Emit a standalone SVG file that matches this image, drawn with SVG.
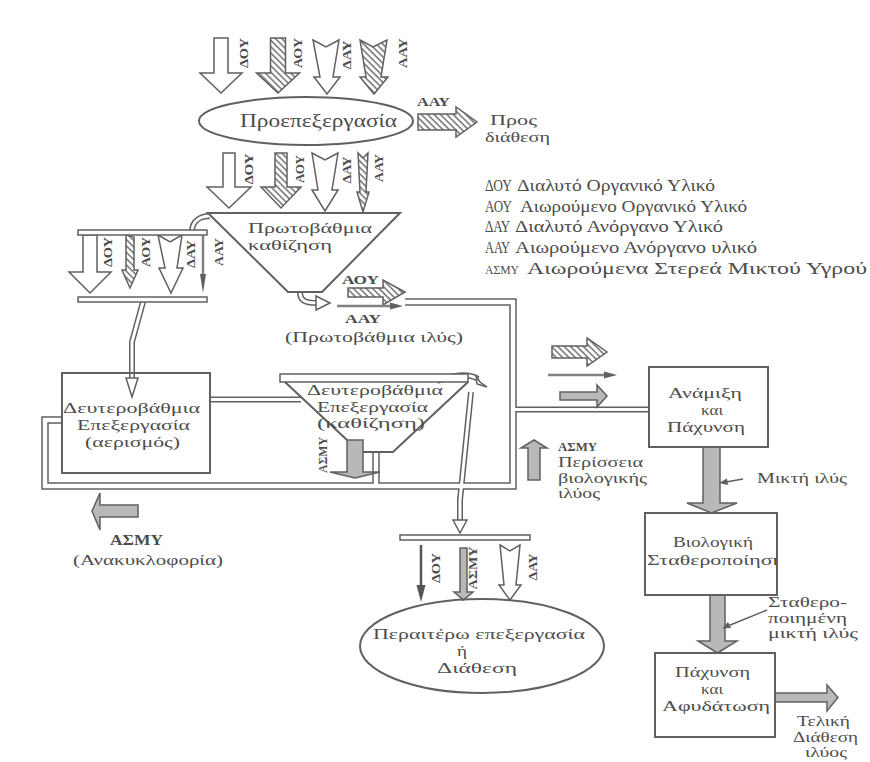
<svg xmlns="http://www.w3.org/2000/svg" width="870" height="762" viewBox="0 0 870 762">
<defs>
<pattern id="hatch" patternUnits="userSpaceOnUse" width="4.5" height="4.5" patternTransform="rotate(-45)">
<rect width="4.5" height="4.5" fill="#fff"/>
<line x1="1" y1="0" x2="1" y2="4.5" stroke="#5a5a5a" stroke-width="1.3"/>
</pattern>
<clipPath id="clipBio"><rect x="645" y="513" width="131" height="82"/></clipPath>
</defs>
<style>
.t{font-family:"Liberation Serif","DejaVu Serif",serif;font-size:18px;fill:#4d4d4d}
.lg{font-size:16px}
.s15{font-size:15px}
.s14{font-size:14px}
.b{font-family:"Liberation Serif","DejaVu Serif",serif;font-weight:bold;font-size:13px;fill:#4d4d4d}
.box{fill:none;stroke:#606060;stroke-width:2}
.wa{fill:#fff;stroke:#606060;stroke-width:1.5;stroke-linejoin:miter}
.ha{fill:url(#hatch);stroke:#606060;stroke-width:1.5}
.ga{fill:#b8b8b8;stroke:#606060;stroke-width:1.5}
.po{fill:none;stroke:#606060;stroke-width:7.5}
.pi{fill:none;stroke:#fff;stroke-width:4.5}
.po2{fill:none;stroke:#606060;stroke-width:6}
.pi2{fill:none;stroke:#fff;stroke-width:3}
.ln{fill:none;stroke:#606060;stroke-width:1.5}
.thin{fill:none;stroke:#808080;stroke-width:2.5}
.bar{fill:#fff;stroke:#606060;stroke-width:1.5}
.hd{fill:#606060;stroke:none}
</style>
<rect width="870" height="762" fill="#fff"/>

<g id="connectors">
  <!-- pipes: outer strokes -->
  <path class="po" d="M405,302 H513 V486 H45 V420 H62"/>
  <path class="po2" d="M513,409.5 H649"/>
  <path class="po2" d="M210,399.5 H301"/>
  <path class="po" d="M376,452 V486"/>
  <path class="po2" d="M471,392 L460,500 V521"/>
  <path class="po2" d="M143,302 L132,342 V379"/>
  <path class="po2" d="M210,216 C200,216 193,221 192,230"/>
  <path class="po2" d="M300,292 C300,300 304,303 317,303"/>
  <path class="po2" d="M437,381 C452,375 468,373 478,379"/>
  <!-- pipes: inner strokes -->
  <path class="pi" d="M405,302 H513 V486 H45 V420 H62"/>
  <path class="pi2" d="M513,409.5 H649"/>
  <path class="pi2" d="M210,399.5 H301"/>
  <path class="pi" d="M376,452 V486"/>
  <path class="pi2" d="M471,392 L460,500 V521"/>
  <path class="pi2" d="M143,302 L132,342 V379"/>
  <path class="pi2" d="M210,216 C200,216 193,221 192,230"/>
  <path class="pi2" d="M300,292 C300,300 304,303 317,303"/>
  <path class="pi2" d="M437,381 C452,375 468,373 478,379"/>
  <!-- open heads -->
  <polygon class="wa" points="126,378 138,378 132,397"/>
  <polygon class="wa" points="453,520 467,520 460,533"/>
  <polygon class="wa" points="316,296 316,310 330,303"/>
  <polygon class="wa" points="476,376 480,382 487,387 477,384"/>

  <!-- row 1 arrows into pretreatment -->
  <path class="wa" d="M214,38 L228,38 L228,73 L242,73 L221,93 L200,73 L214,73 Z"/>
  <path class="ha" d="M270.5,38 L285.5,38 L285.5,73 L299.5,73 L278,93 L256.5,73 L270.5,73 Z"/>
  <path class="wa" d="M313,40 L326,47 L339,40 L333,77 L340,77 L327,94 L314,77 L320,77 Z"/>
  <path class="ha" d="M360,40 L373,47 L387,40 L381,77 L388,77 L374,94 L360,77 L366,77 Z"/>
  <!-- ΑΑΥ to disposal -->
  <path class="ha" d="M418,114 L456,114 L456,107 L477,122 L456,137 L456,130 L418,130 Z"/>

  <!-- row 2 arrows into primary settling -->
  <path class="wa" d="M223,153 L235,153 L235,187 L251,187 L229,208 L207,187 L223,187 Z"/>
  <path class="ha" d="M275,153 L287,153 L287,187 L301,187 L281,208 L261,187 L275,187 Z"/>
  <path class="wa" d="M312,153 L325,160 L338,153 L332,190 L338,190 L325,211 L312,190 L318,190 Z"/>
  <path class="ha" d="M358,153 L363,158 L368,153 L366,192 L369,192 L363,212 L357,192 L360,192 Z"/>

  <!-- left group arrows -->
  <path class="wa" d="M83,235 L97,235 L97,272 L111,272 L90,293 L69,272 L83,272 Z"/>
  <path class="ha" d="M126,235 L134,237 L134,270 L138,270 L130,288 L122,270 L126,270 Z"/>
  <path class="wa" d="M158,235 L170,242 L182,235 L177,268 L183,268 L171,293 L159,268 L165,268 Z"/>
  <line class="thin" x1="203" y1="235" x2="203" y2="280"/>
  <polygon class="hd" points="200,274 206,274 203,293"/>

  <!-- primary sludge outputs -->
  <path class="ha" d="M348,288 L383,288 L383,280 L405,292 L383,305 L383,297 L348,297 Z"/>
  <line class="thin" x1="337" y1="306" x2="394" y2="306"/>
  <polygon class="hd" points="390,302.5 403,306 390,309.5"/>

  <!-- arrows toward mixing -->
  <path class="ha" d="M552,346 L587,346 L587,338 L607,352 L587,366 L587,358 L552,358 Z"/>
  <line class="thin" x1="548" y1="375" x2="608" y2="375"/>
  <polygon class="hd" points="604,371.5 617,375 604,378.5"/>
  <path class="ga" d="M560,392 L597,392 L597,385 L607,396 L597,407 L597,400 L560,400 Z"/>
  <!-- excess biological sludge -->
  <path class="ga" d="M528,480 L540,480 L540,448 L547,448 L534,440 L521,448 L528,448 Z"/>
  <!-- clarifier underflow ΑΣΜΥ -->
  <path class="ga" d="M347,440 L363,440 L363,472 L380,472 L355,478 L330,472 L347,472 Z"/>
  <!-- recycle -->
  <path class="ga" d="M138,505 L100,505 L100,493 L92,511 L100,530 L100,517 L138,517 Z"/>

  <!-- bottom group arrows -->
  <line x1="421" y1="545" x2="421" y2="590" stroke="#555" stroke-width="2.5"/>
  <polygon points="416.5,585 425.5,585 421,602" fill="#555"/>
  <path class="ga" d="M460,548 L467,548 L467,592 L473,592 L463.5,600 L454,592 L460,592 Z"/>
  <path class="wa" d="M500,545 L510,551 L520,545 L516,585 L521,585 L510,600 L499,585 L504,585 Z"/>

  <!-- sludge line -->
  <path class="ga" d="M703,447 L720,447 L720,503 L737,503 L711.5,513 L687,503 L703,503 Z"/>
  <path class="ga" d="M710,595 L725,595 L725,641 L737,641 L717.5,653 L698,641 L710,641 Z"/>
  <path class="ga" d="M775,693 L827,693 L827,685 L838,697.5 L827,711 L827,702 L775,702 Z"/>
  <!-- pointers -->
  <line class="ln" x1="743" y1="479" x2="726" y2="482"/>
  <polygon class="hd" points="719,483 727,478.5 728,485"/>
  <line class="ln" x1="767" y1="610" x2="729" y2="625.5"/>
  <polygon class="hd" points="722,628.5 728,622 731,628"/>
</g>

<!-- arrow labels -->
<g id="arrow-labels">
  <text class="b" transform="translate(247.5,53) rotate(-90)" text-anchor="middle" textLength="30" lengthAdjust="spacingAndGlyphs">ΔΟΥ</text>
  <text class="b" transform="translate(301.5,53) rotate(-90)" text-anchor="middle" textLength="30" lengthAdjust="spacingAndGlyphs">ΑΟΥ</text>
  <text class="b" transform="translate(350.5,55) rotate(-90)" text-anchor="middle" textLength="29" lengthAdjust="spacingAndGlyphs">ΔΑΥ</text>
  <text class="b" transform="translate(406.5,53) rotate(-90)" text-anchor="middle" textLength="30" lengthAdjust="spacingAndGlyphs">ΑΑΥ</text>
  <text class="b" x="417" y="106" textLength="33" lengthAdjust="spacingAndGlyphs">ΑΑΥ</text>

  <text class="b" transform="translate(252.5,169) rotate(-90)" text-anchor="middle" textLength="31" lengthAdjust="spacingAndGlyphs">ΔΟΥ</text>
  <text class="b" transform="translate(303.5,169) rotate(-90)" text-anchor="middle" textLength="28" lengthAdjust="spacingAndGlyphs">ΑΟΥ</text>
  <text class="b" transform="translate(350.5,170) rotate(-90)" text-anchor="middle" textLength="27" lengthAdjust="spacingAndGlyphs">ΔΑΥ</text>
  <text class="b" transform="translate(382.5,168) rotate(-90)" text-anchor="middle" textLength="28" lengthAdjust="spacingAndGlyphs">ΑΑΥ</text>

  <text class="b" transform="translate(111.5,252) rotate(-90)" text-anchor="middle" textLength="30" lengthAdjust="spacingAndGlyphs">ΔΟΥ</text>
  <text class="b" transform="translate(149.5,252) rotate(-90)" text-anchor="middle" textLength="30" lengthAdjust="spacingAndGlyphs">ΑΟΥ</text>
  <text class="b" transform="translate(194.5,254) rotate(-90)" text-anchor="middle" textLength="28" lengthAdjust="spacingAndGlyphs">ΔΑΥ</text>
  <text class="b" transform="translate(222.5,252) rotate(-90)" text-anchor="middle" textLength="28" lengthAdjust="spacingAndGlyphs">ΑΑΥ</text>

  <text class="b" x="342" y="284" textLength="37" lengthAdjust="spacingAndGlyphs">ΑΟΥ</text>
  <text class="b" x="345" y="323" textLength="36" lengthAdjust="spacingAndGlyphs">ΑΑΥ</text>
  <text class="t s15" x="285" y="342" textLength="178" lengthAdjust="spacingAndGlyphs">(Πρωτοβάθμια ιλύς)</text>

  <text class="b" transform="translate(326.5,455) rotate(-90)" text-anchor="middle" textLength="36" lengthAdjust="spacingAndGlyphs">ΑΣΜΥ</text>

  <text class="b" x="558" y="451" textLength="39" lengthAdjust="spacingAndGlyphs">ΑΣΜΥ</text>
  <text class="t s14" x="558" y="467" textLength="85" lengthAdjust="spacingAndGlyphs">Περίσσεια</text>
  <text class="t s14" x="558" y="482.5" textLength="89" lengthAdjust="spacingAndGlyphs">βιολογικής</text>
  <text class="t s14" x="558" y="498" textLength="42" lengthAdjust="spacingAndGlyphs">ιλύος</text>

  <text class="b" x="110" y="545" style="font-size:15px" textLength="53" lengthAdjust="spacingAndGlyphs">ΑΣΜΥ</text>
  <text class="t s15" x="73" y="565" textLength="150" lengthAdjust="spacingAndGlyphs">(Ανακυκλοφορία)</text>

  <text class="b" transform="translate(439.5,568) rotate(-90)" text-anchor="middle" textLength="30" lengthAdjust="spacingAndGlyphs">ΔΟΥ</text>
  <text class="b" transform="translate(476.5,568) rotate(-90)" text-anchor="middle" textLength="43" lengthAdjust="spacingAndGlyphs">ΑΣΜΥ</text>
  <text class="b" transform="translate(536.5,567) rotate(-90)" text-anchor="middle" textLength="27" lengthAdjust="spacingAndGlyphs">ΔΑΥ</text>

  <text class="t s15" x="757" y="483" textLength="90" lengthAdjust="spacingAndGlyphs">Μικτή ιλύς</text>
  <text class="t s14" x="768" y="607" textLength="79" lengthAdjust="spacingAndGlyphs">Σταθερο-</text>
  <text class="t s14" x="768" y="622.5" textLength="79" lengthAdjust="spacingAndGlyphs">ποιημένη</text>
  <text class="t s14" x="768" y="638" textLength="90" lengthAdjust="spacingAndGlyphs">μικτή ιλύς</text>
  <text class="t s14" x="797" y="726" textLength="53" lengthAdjust="spacingAndGlyphs">Τελική</text>
  <text class="t s14" x="793" y="741.5" textLength="65" lengthAdjust="spacingAndGlyphs">Διάθεση</text>
  <text class="t s14" x="805" y="757" textLength="42" lengthAdjust="spacingAndGlyphs">ιλύος</text>
</g>

<g id="n-pretreatment">
  <ellipse class="box" cx="306" cy="121" rx="107" ry="24"/>
  <text class="t" x="240" y="127" textLength="157" lengthAdjust="spacingAndGlyphs">Προεπεξεργασία</text>
</g>
<g id="n-disposal-label">
  <text class="t s15" x="490" y="125" textLength="47" lengthAdjust="spacingAndGlyphs">Προς</text>
  <text class="t s15" x="485" y="142" textLength="65" lengthAdjust="spacingAndGlyphs">διάθεση</text>
</g>

<g id="n-primary">
  <polygon class="box" points="208,213 400,213 322,292 288,292"/>
  <text class="t s15" x="248" y="233" textLength="124" lengthAdjust="spacingAndGlyphs">Πρωτοβάθμια</text>
  <text class="t s15" x="248" y="250" textLength="84" lengthAdjust="spacingAndGlyphs">καθίζηση</text>
</g>

<g id="n-splitter-left">
  <rect class="bar" x="78" y="230" width="129" height="5"/>
  <rect class="bar" x="78" y="297" width="129" height="5"/>
</g>

<g id="n-secondary">
  <rect class="box" x="62" y="373" width="148" height="100"/>
  <text class="t s15" x="63" y="413" textLength="137" lengthAdjust="spacingAndGlyphs">Δευτεροβάθμια</text>
  <text class="t s15" x="77" y="430" textLength="113" lengthAdjust="spacingAndGlyphs">Επεξεργασία</text>
  <text class="t s15" x="85" y="447" textLength="95" lengthAdjust="spacingAndGlyphs">(αερισμός)</text>
</g>

<g id="n-clarifier">
  <rect class="bar" x="280" y="374" width="188" height="8"/>
  <path class="box" d="M285,382 L347,440 M363,452 L393,452 L468,382"/>
  <text class="t s14" x="307" y="395" textLength="136" lengthAdjust="spacingAndGlyphs">Δευτεροβάθμια</text>
  <text class="t s14" x="317" y="411.5" textLength="111" lengthAdjust="spacingAndGlyphs">Επεξεργασία</text>
  <text class="t s14" x="317" y="428" textLength="108" lengthAdjust="spacingAndGlyphs">(καθίζηση)</text>
</g>

<g id="n-mixing">
  <rect class="box" x="649" y="367" width="119" height="80"/>
  <text class="t s15" x="668" y="398" textLength="74" lengthAdjust="spacingAndGlyphs">Ανάμιξη</text>
  <text class="t s15" x="701" y="415" textLength="22" lengthAdjust="spacingAndGlyphs">και</text>
  <text class="t s15" x="667" y="432" textLength="78" lengthAdjust="spacingAndGlyphs">Πάχυνση</text>
</g>

<g id="n-biostab">
  <rect class="box" x="645" y="513" width="132" height="82"/>
  <text class="t s15" x="673" y="547" textLength="80" lengthAdjust="spacingAndGlyphs">Βιολογική</text>
  <text class="t s15" x="647" y="565" textLength="137" lengthAdjust="spacingAndGlyphs" clip-path="url(#clipBio)">Σταθεροποίηση</text>
</g>

<g id="n-dewatering">
  <rect class="box" x="655" y="653" width="120" height="84"/>
  <text class="t s15" x="675" y="677" textLength="75" lengthAdjust="spacingAndGlyphs">Πάχυνση</text>
  <text class="t s15" x="701" y="694" textLength="22" lengthAdjust="spacingAndGlyphs">και</text>
  <text class="t s15" x="662" y="711" textLength="108" lengthAdjust="spacingAndGlyphs">Αφυδάτωση</text>
</g>

<g id="n-splitter-bottom">
  <rect class="bar" x="400" y="535" width="130" height="5"/>
</g>

<g id="n-further">
  <ellipse class="box" cx="482" cy="646" rx="122" ry="47"/>
  <text class="t s15" x="373" y="639" textLength="212" lengthAdjust="spacingAndGlyphs">Περαιτέρω επεξεργασία</text>
  <text class="t s15" x="457" y="656" textLength="10" lengthAdjust="spacingAndGlyphs">ή</text>
  <text class="t s15" x="437" y="673" textLength="80" lengthAdjust="spacingAndGlyphs">Διάθεση</text>
</g>

<g id="n-legend">
  <text class="t lg" x="485" y="191" textLength="27" lengthAdjust="spacingAndGlyphs">ΔΟΥ</text>
  <text class="t lg" x="517" y="191" textLength="198" lengthAdjust="spacingAndGlyphs">Διαλυτό Οργανικό Υλικό</text>
  <text class="t lg" x="485" y="211.5" textLength="27" lengthAdjust="spacingAndGlyphs">ΑΟΥ</text>
  <text class="t lg" x="520" y="211.5" textLength="227" lengthAdjust="spacingAndGlyphs">Αιωρούμενο Οργανικό Υλικό</text>
  <text class="t lg" x="485" y="232" textLength="25" lengthAdjust="spacingAndGlyphs">ΔΑΥ</text>
  <text class="t lg" x="515" y="232" textLength="208" lengthAdjust="spacingAndGlyphs">Διαλυτό Ανόργανο Υλικό</text>
  <text class="t lg" x="485" y="252.5" textLength="25" lengthAdjust="spacingAndGlyphs">ΑΑΥ</text>
  <text class="t lg" x="515" y="252.5" textLength="242" lengthAdjust="spacingAndGlyphs">Αιωρούμενο Ανόργανο υλικό</text>
  <text class="t" x="485" y="274" style="font-size:13px" textLength="34" lengthAdjust="spacingAndGlyphs">ΑΣΜΥ</text>
  <text class="t lg" x="527" y="274" textLength="340" lengthAdjust="spacingAndGlyphs">Αιωρούμενα Στερεά Μικτού Υγρού</text>
</g>
</svg>
